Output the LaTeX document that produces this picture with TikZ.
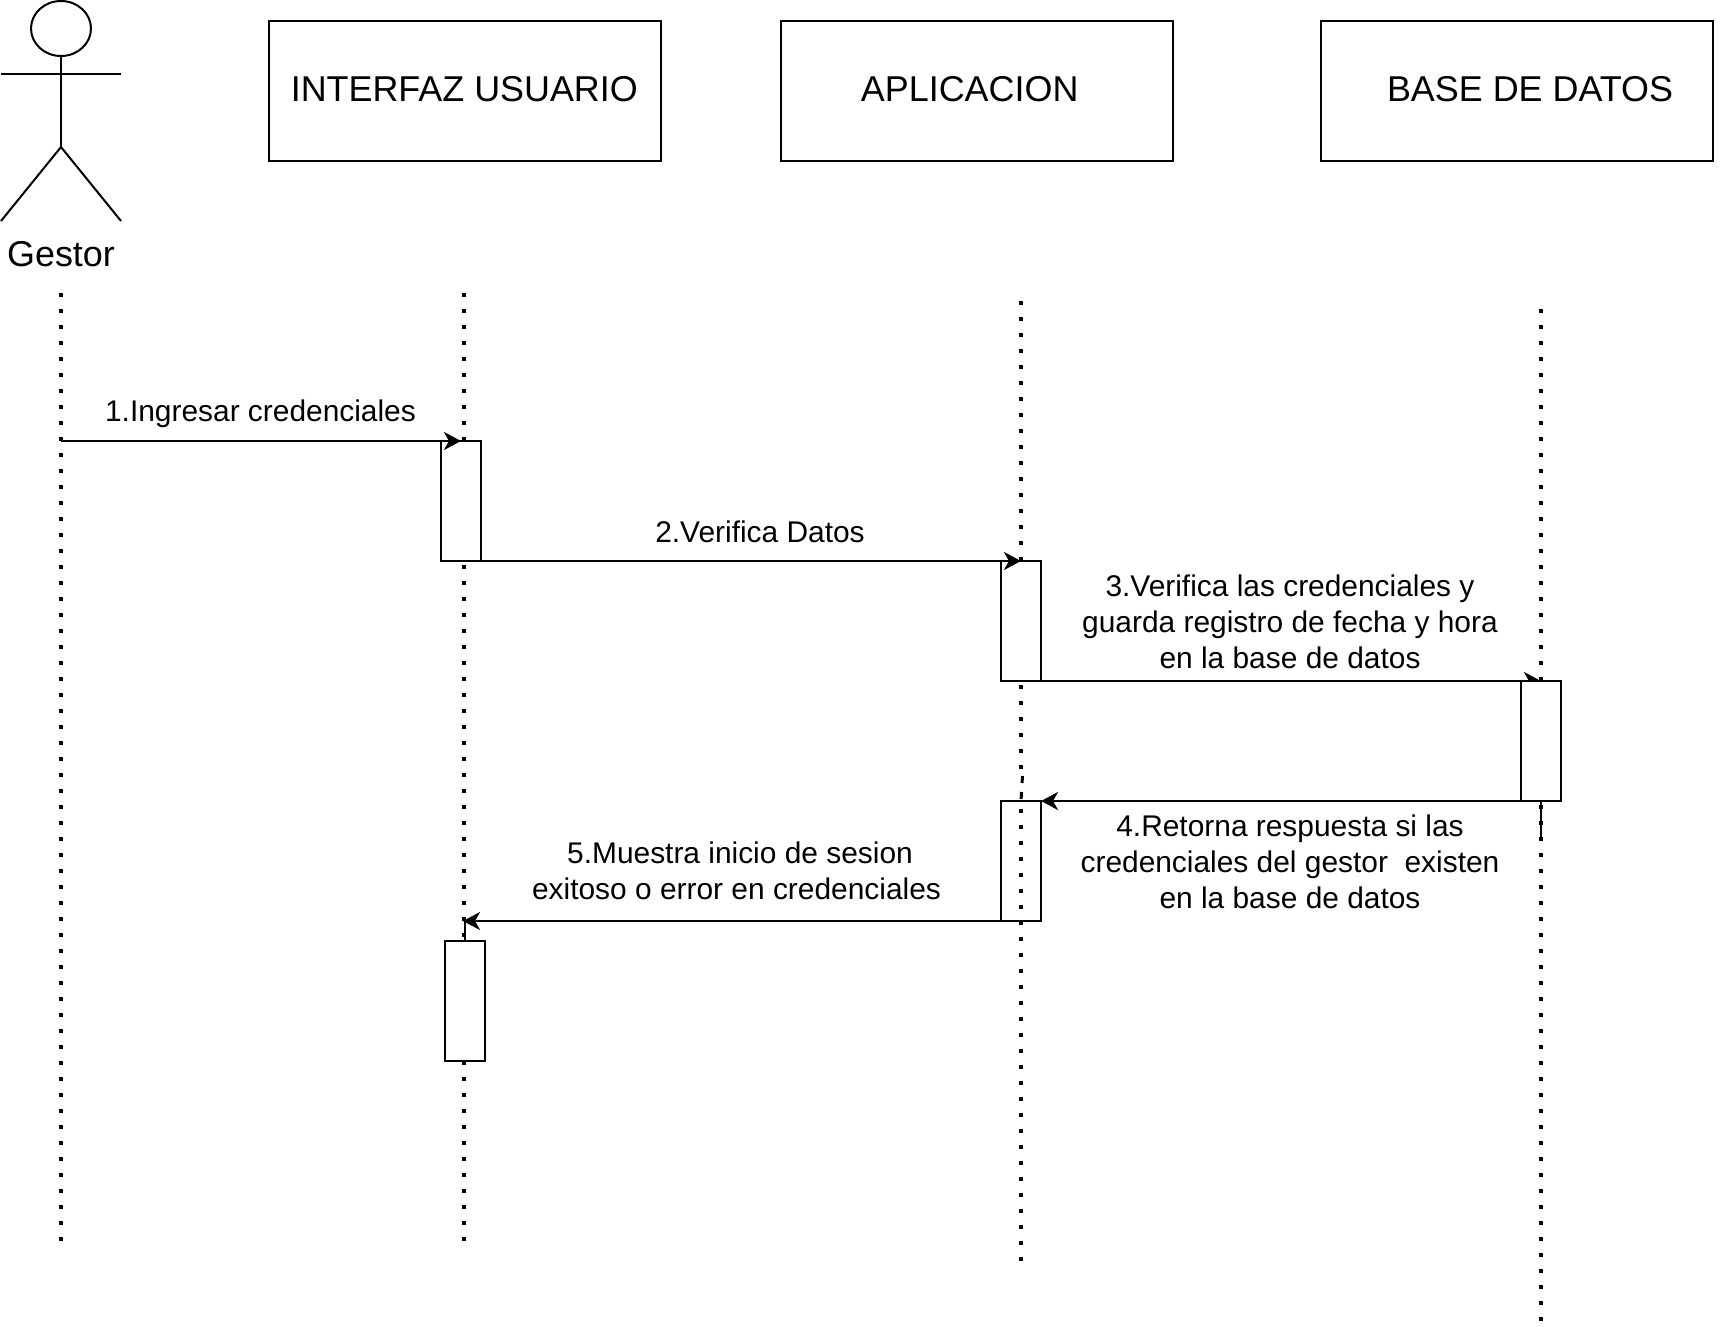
\documentclass[tikz,border=0pt]{standalone}
\usepackage{fontspec}
\setmainfont{Liberation Sans}
\usetikzlibrary{positioning}
\usetikzlibrary{arrows.meta}
\usetikzlibrary{shapes.geometric}
\tikzset{>={Stealth[length=17pt,width=18pt,inset=5pt]}}
\tikzset{obj/.style={draw,line width=2pt,minimum width=391.5pt,minimum height=140pt,inner sep=0pt,outer sep=0pt}}
\tikzset{objname/.style={inner sep=0pt,font=\fontsize{35.9}{40}\selectfont}}
\tikzset{act/.style={draw,line width=2pt,minimum width=40pt,minimum height=120pt,inner sep=0pt,outer sep=0pt}}
\tikzset{msg/.style={inner sep=0pt,align=center,font=\fontsize{29.9}{36}\selectfont}}
\tikzset{life/.style={line width=4pt,dash pattern=on 4pt off 12pt}}
\tikzset{kink/.style={line width=3pt,dash pattern=on 7pt off 9pt}}
\tikzset{call/.style={->,line width=2pt}}
\tikzset{stick/.style={line width=2pt}}

\begin{document}
\begin{tikzpicture}[x=1pt,y=-1pt]
\useasboundingbox (0,0) rectangle (1722,1326);

%%% The actor

\node[draw,ellipse,line width=2pt,minimum width=60pt,minimum height=55pt,inner sep=0pt,outer sep=0pt] (head) at (61,28.5) {};
\coordinate (hip) at (61,147);
\coordinate (armL) at (1,74);
\coordinate (armR) at (121,74);
\coordinate (footL) at (1,221);
\coordinate (footR) at (121,221);
\draw[stick] (head.south) -- (hip);
\draw[stick] (armL) -- (armR);
\draw[stick] (footL) -- (hip) -- (footR);
\node[objname] (gestor) at (61,254) {Gestor};

%%% The objects

\node[obj] (ui) at (465,91) {};
\node[obj] (app) at (977,91) {};
\node[obj] (db) at (1517,91) {};
\node[objname] (uiName) at (464.3,89) {INTERFAZ USUARIO};
\node[objname] (appName) at (969.7,89) {APLICACION};
\node[objname] (dbName) at (1530,89) {BASE DE DATOS};

%%% The lifelines

\coordinate (gTop) at (61,293);
\coordinate (gBot) at (61,1242);
\coordinate (uiTop) at (464,293);
\coordinate (uiBot) at (464,1242);
\coordinate (appTop) at (1021,301);
\coordinate (appEnd) at (1021,770);
\coordinate (appKink) at (1022.5,776);
\coordinate (appLow) at (1021,809);
\coordinate (appBot) at (1021,1262);
\coordinate (dbTop) at (1541,309);
\coordinate (dbBot) at (1541,1322);
\coordinate (dbEnd) at (1541,840);
\draw[life] (gTop) -- (gBot);
\draw[life] (uiTop) -- (uiBot);
\draw[life] (appTop) -- (appEnd);
\draw[life] (appLow) -- (appBot);
\draw[life] (dbTop) -- (dbBot);

%%% The messages

\coordinate (gMsg) at (61,441);
\coordinate (uiMsg) at (463,921);
\coordinate (uiStub) at (465,921);

\node[act,fill=white] (a1) at (461,501) {};
\node[act,fill=white] (a2) at (1021,621) {};
\node[act,fill=white] (a5) at (465,1001) {};
\node[act] (a4) at (1021,861) {};

\draw[call] (gMsg) -- (a1.north);
\draw[call] (a1.south east) -- (a2.north);
\draw[call] (a2.south east) -- (1541,681) coordinate (dbMsg);

\node[act,fill=white] (a3) at (1541,741) {};

\draw[call] (a3.south west) -- (a4.north east);
\draw[call] (a4.south west) -- (uiMsg);

\draw[stick] (a5.north) -- (uiStub);
\draw[stick] (a3.south) -- (dbEnd);
\draw[kink] (appKink) -- (a4.north);

\node[msg] (m1) at (260.5,414) {1.Ingresar credenciales};
\node[msg] (m2) at (760,532) {2.Verifica Datos};
\node[msg] (m3) at (1290,621.5) {3.Verifica las credenciales y\\guarda registro de fecha y hora\\en la base de datos};
\node[msg] (m4) at (1290,861.5) {4.Retorna respuesta si las\\credenciales del gestor\ \ existen\\en la base de datos};
\node[msg] (m5) at (736.5,871) {\hspace{7pt}5.Muestra inicio de sesion\\exitoso o error en credenciales};

\end{tikzpicture}
\end{document}
